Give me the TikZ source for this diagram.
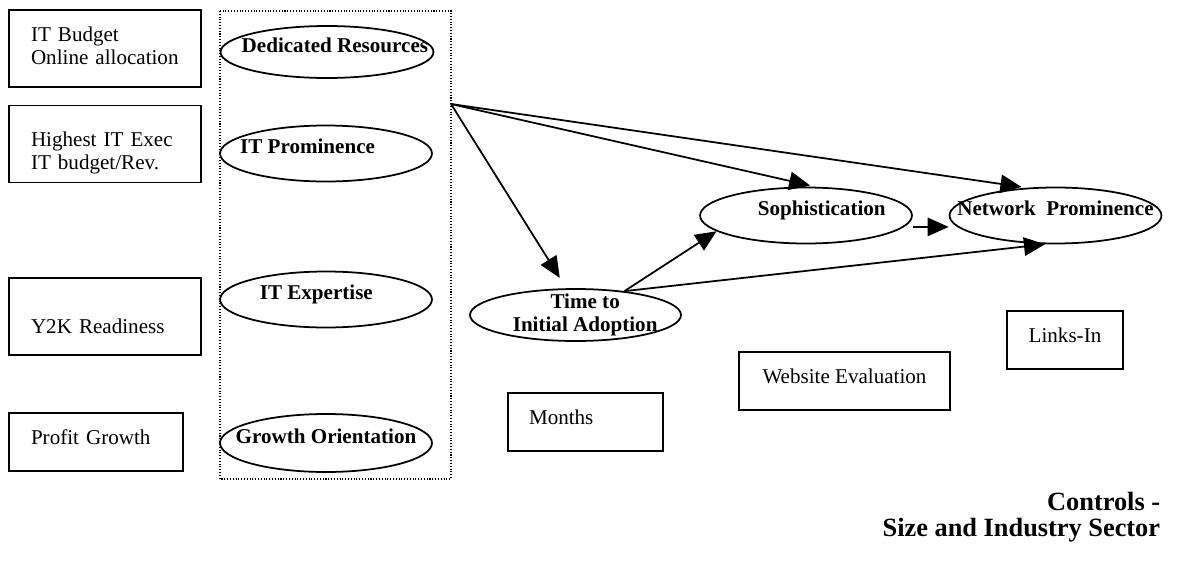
\documentclass[tikz,border=0pt]{standalone}
\usepackage{fontspec}
\setmainfont{Liberation Serif}
\usepackage{tikz}
\usetikzlibrary{arrows.meta}
\usetikzlibrary{shapes}

\begin{document}
\begin{tikzpicture}[x=0.02cm,y=-0.02cm,-,>={Triangle[length=12pt,width=10.5pt]},line width=1pt,
                    measure node/.style={rectangle,draw,inner sep=0pt,text depth=6pt,minimum height=1.16cm,font=\fontsize{12}{13}\selectfont},
                    left box/.style={measure node,minimum width=3.84cm,minimum height=1.54cm,text width=2.96cm,align=left},
                    construct node/.style={ellipse,draw,inner xsep=-25pt,inner ysep=-3pt,text depth=8pt,minimum width=4.24cm,minimum height=1.12cm,font=\bfseries\fontsize{12}{13}\selectfont}]

  \useasboundingbox (0,0) rectangle (1181,565);

  % indicators
  \node[left box,text depth=16pt] (budget) at (105,48.5) {IT Budget\\Online allocation};
  \node[left box,text depth=5.6pt] (exec) at (105,144) {Highest IT Exec\\IT budget/Rev.};
  \node[left box,text depth=15pt] (y2k) at (105,316.5) {\mbox{}\\[4pt]Y2K Readiness};
  \node[measure node,minimum width=3.48cm,text width=2.6cm,align=left] (profit) at (96,442) {Profit Growth};
  \node[measure node,minimum width=3.1cm,text width=2.26cm,align=left] (months) at (585.5,422) {Months};
  \node[measure node,minimum width=4.22cm] (website) at (844.5,381) {Website Evaluation};
  \node[measure node,minimum width=2.32cm] (links) at (1065,340) {Links-In};

  % constructs
  \node[construct node,minimum width=4.26cm,minimum height=1.04cm] (resources) at (327,52) {\hspace*{9pt}Dedicated Resources};
  \node[construct node] (prominence) at (326,153.5) {IT Prominence\hspace*{21pt}};
  \node[construct node] (expertise) at (326,299.5) {IT Expertise\hspace*{11pt}};
  \node[construct node,minimum height=1.16cm] (growth) at (326,443) {Growth Orientation};
  \node[construct node,text depth=2.6pt,minimum width=4.22cm,minimum height=1.04cm,align=center] (adoption) at (575.5,315) {\hspace*{11pt}Time to\\\hspace*{11pt}Initial Adoption};
  \node[construct node] (sophistication) at (806,215.5) {\hspace*{18pt}Sophistication};
  \node[construct node] (network) at (1055.5,215.5) {Network\ \ Prominence};

  \draw[densely dotted,line width=0.6pt] (220,11) rectangle (451,479);
  \coordinate (hub) at (451,104);

  \path[->]
    (hub) edge [shorten >=7pt] (adoption.109)
          edge [shorten >=3pt] (sophistication.72)
          edge [shorten >=3pt] (network.136)
    (adoption.26) edge (sophistication.190)
                  edge (network.250)
    ([yshift=-6.5pt]sophistication.east) edge ([yshift=-6.5pt]network.west);

  \node[anchor=north east,inner sep=0pt,align=right,font=\bfseries\fontsize{15}{15}\selectfont] (controls) at (1161,491) {Controls -\\Size and Industry Sector};
\end{tikzpicture}
\end{document}
